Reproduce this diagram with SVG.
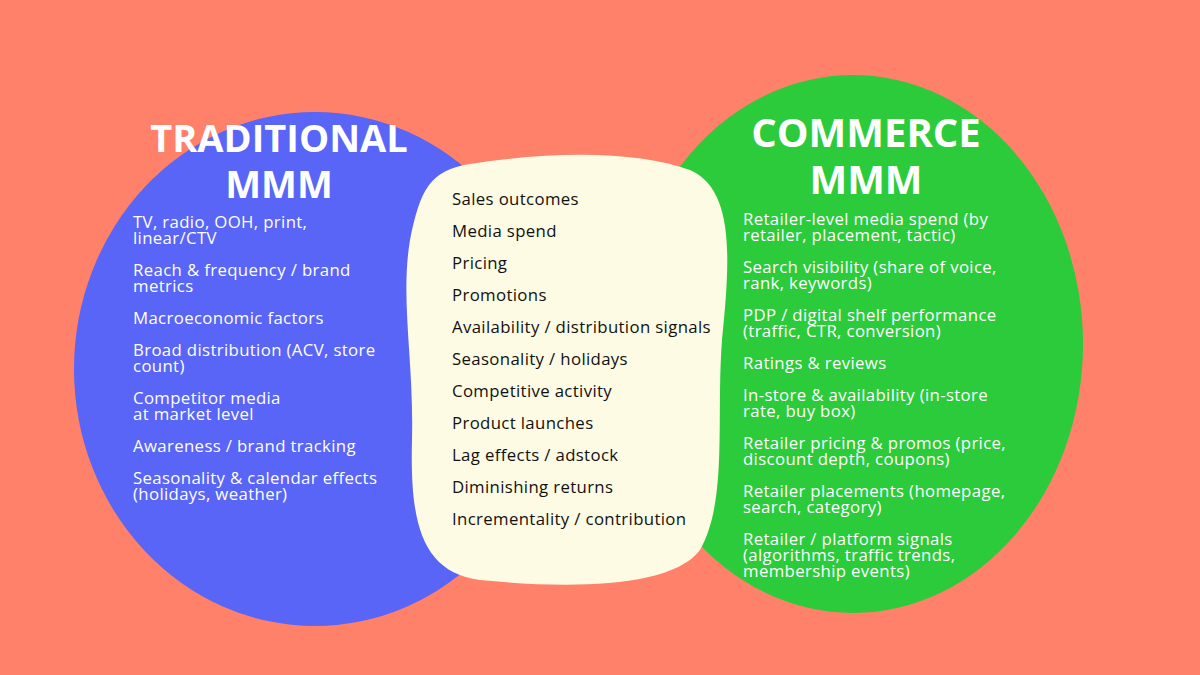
<svg xmlns="http://www.w3.org/2000/svg" width="1200" height="675" viewBox="0 0 1200 675">
<style>
.t{font-family:"Open Sans","Liberation Sans",sans-serif;font-weight:700;font-size:38px;fill:#fff;text-anchor:middle}
.w{font-family:"Open Sans","Liberation Sans",sans-serif;font-size:16.8px;letter-spacing:0.35px;fill:#fff}
.d{font-family:"Open Sans","Liberation Sans",sans-serif;font-size:16.8px;letter-spacing:0.35px;fill:#111}
</style>
<rect width="1200" height="675" fill="#FF8169"/>
<g id="traditional">
<ellipse cx="315" cy="369" rx="241" ry="257" fill="#5865F7"/>
<text class="t" x="279" y="152">TRADITIONAL</text>
<text class="t" x="279" y="198">MMM</text>
<text class="w"><tspan x="133" y="228">TV, radio, OOH, print,</tspan><tspan x="133" y="244">linear/CTV</tspan>
<tspan x="133" y="276">Reach &amp; frequency / brand</tspan><tspan x="133" y="292">metrics</tspan>
<tspan x="133" y="324">Macroeconomic factors</tspan>
<tspan x="133" y="356">Broad distribution (ACV, store</tspan><tspan x="133" y="372">count)</tspan>
<tspan x="133" y="404">Competitor media</tspan><tspan x="133" y="420">at market level</tspan>
<tspan x="133" y="452">Awareness / brand tracking</tspan>
<tspan x="133" y="484">Seasonality &amp; calendar effects</tspan><tspan x="133" y="500">(holidays, weather)</tspan></text>
</g>
<g id="commerce">
<ellipse cx="853" cy="344" rx="230" ry="269" fill="#2BCB3B"/>
<text class="t" x="866" y="147" style="font-size:40px">COMMERCE</text>
<text class="t" x="866" y="194" style="font-size:40px">MMM</text>
<text class="w"><tspan x="743" y="225">Retailer-level media spend (by</tspan><tspan x="743" y="241">retailer, placement, tactic)</tspan>
<tspan x="743" y="273">Search visibility (share of voice,</tspan><tspan x="743" y="289">rank, keywords)</tspan>
<tspan x="743" y="321">PDP / digital shelf performance</tspan><tspan x="743" y="337">(traffic, CTR, conversion)</tspan>
<tspan x="743" y="369">Ratings &amp; reviews</tspan>
<tspan x="743" y="401">In-store &amp; availability (in-store</tspan><tspan x="743" y="417">rate, buy box)</tspan>
<tspan x="743" y="449">Retailer pricing &amp; promos (price,</tspan><tspan x="743" y="465">discount depth, coupons)</tspan>
<tspan x="743" y="497">Retailer placements (homepage,</tspan><tspan x="743" y="513">search, category)</tspan>
<tspan x="743" y="545">Retailer / platform signals</tspan><tspan x="743" y="561">(algorithms, traffic trends,</tspan><tspan x="743" y="577">membership events)</tspan></text>
</g>
<g id="shared">
<path d="M470 164 C560 150 640 152 690 170 C735 190 730 260 722 340 C716 420 728 500 700 550 C670 590 560 588 480 580 C420 572 410 520 412 440 C414 360 400 300 410 240 C420 190 430 170 470 164 Z" fill="#FDFBE3"/>
<text class="d"><tspan x="452" y="205">Sales outcomes</tspan><tspan x="452" y="237">Media spend</tspan><tspan x="452" y="269">Pricing</tspan><tspan x="452" y="301">Promotions</tspan><tspan x="452" y="333">Availability / distribution signals</tspan><tspan x="452" y="365">Seasonality / holidays</tspan><tspan x="452" y="397">Competitive activity</tspan><tspan x="452" y="429">Product launches</tspan><tspan x="452" y="461">Lag effects / adstock</tspan><tspan x="452" y="493">Diminishing returns</tspan><tspan x="452" y="525">Incrementality / contribution</tspan></text>
</g>
<g id="connectors"/>
</svg>
